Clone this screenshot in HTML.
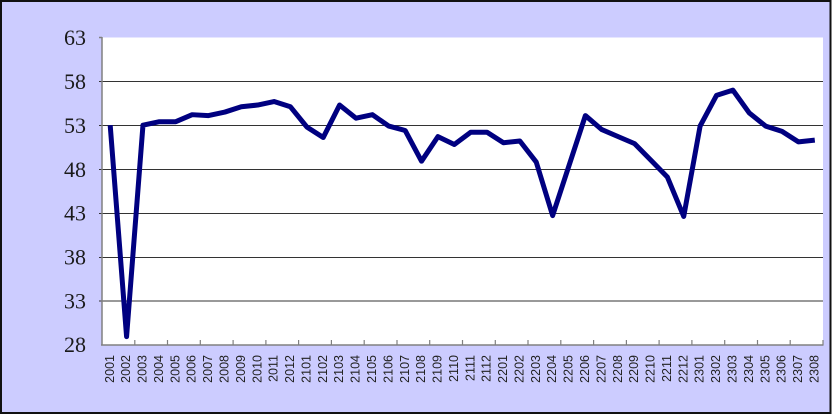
<!DOCTYPE html>
<html><head><meta charset="utf-8"><style>
html,body{margin:0;padding:0;background:#fff;}
svg{display:block;}
</style></head><body>
<svg width="832" height="415" xmlns="http://www.w3.org/2000/svg">
<rect x="1" y="1" width="829.5" height="412" fill="#ccccff" stroke="#111" stroke-width="2"/>
<rect x="102" y="37.5" width="721" height="307" fill="#fff"/>
<g stroke="#333" stroke-width="1">
<line x1="99" y1="81.5" x2="823" y2="81.5"/>
<line x1="99" y1="125.5" x2="823" y2="125.5"/>
<line x1="99" y1="169.5" x2="823" y2="169.5"/>
<line x1="99" y1="213.5" x2="823" y2="213.5"/>
<line x1="99" y1="257.5" x2="823" y2="257.5"/>
<line x1="99" y1="301" x2="823" y2="301"/>
</g>
<g stroke="#808080" stroke-width="1.5">
<line x1="99" y1="37.5" x2="102" y2="37.5"/>
<line x1="102" y1="37" x2="102" y2="345"/>
<line x1="101" y1="345" x2="823.5" y2="345"/>
</g>
<g stroke="#808080" stroke-width="1.2">
<line x1="134.8" y1="340" x2="134.8" y2="345"/>
<line x1="167.5" y1="340" x2="167.5" y2="345"/>
<line x1="200.3" y1="340" x2="200.3" y2="345"/>
<line x1="233.1" y1="340" x2="233.1" y2="345"/>
<line x1="265.9" y1="340" x2="265.9" y2="345"/>
<line x1="298.6" y1="340" x2="298.6" y2="345"/>
<line x1="331.4" y1="340" x2="331.4" y2="345"/>
<line x1="364.2" y1="340" x2="364.2" y2="345"/>
<line x1="397.0" y1="340" x2="397.0" y2="345"/>
<line x1="429.7" y1="340" x2="429.7" y2="345"/>
<line x1="462.5" y1="340" x2="462.5" y2="345"/>
<line x1="495.3" y1="340" x2="495.3" y2="345"/>
<line x1="528.0" y1="340" x2="528.0" y2="345"/>
<line x1="560.8" y1="340" x2="560.8" y2="345"/>
<line x1="593.6" y1="340" x2="593.6" y2="345"/>
<line x1="626.4" y1="340" x2="626.4" y2="345"/>
<line x1="659.1" y1="340" x2="659.1" y2="345"/>
<line x1="691.9" y1="340" x2="691.9" y2="345"/>
<line x1="724.7" y1="340" x2="724.7" y2="345"/>
<line x1="757.5" y1="340" x2="757.5" y2="345"/>
<line x1="790.2" y1="340" x2="790.2" y2="345"/>
<line x1="823" y1="340" x2="823" y2="345"/>
</g>
<g font-family="Liberation Serif, serif" font-size="22" fill="#1a1a1a" text-anchor="end">
<text x="86" y="45">63</text>
<text x="86" y="89">58</text>
<text x="86" y="133">53</text>
<text x="86" y="177">48</text>
<text x="86" y="220.5">43</text>
<text x="86" y="264.5">38</text>
<text x="86" y="308.5">33</text>
<text x="86" y="352">28</text>
</g>
<polyline fill="none" stroke="#000080" stroke-width="5" stroke-linejoin="round" points="110.19,125.21 126.58,336.61 142.97,125.21 159.35,121.71 175.74,121.71 192.13,114.69 208.51,115.57 224.90,112.06 241.28,106.79 257.67,105.04 274.06,101.53 290.44,106.79 306.83,126.97 323.22,137.49 339.60,105.04 355.99,118.20 372.38,114.69 388.76,126.09 405.15,130.48 421.53,161.18 437.92,136.62 454.31,144.51 470.69,132.23 487.08,132.23 503.47,142.76 519.85,141.00 536.24,162.05 552.63,215.56 569.01,165.56 585.40,115.57 601.78,129.60 618.17,136.62 634.56,143.63 650.94,160.30 667.33,176.97 683.72,216.44 700.10,126.09 716.49,95.39 732.88,90.13 749.26,112.94 765.65,126.09 782.03,131.35 798.42,141.88 814.81,140.13"/>
<g font-family="Liberation Sans, sans-serif" font-size="12.5" fill="#222" text-anchor="end">
<text transform="translate(113.8,355) rotate(-90)">2001</text>
<text transform="translate(130.2,355) rotate(-90)">2002</text>
<text transform="translate(146.6,355) rotate(-90)">2003</text>
<text transform="translate(163.0,355) rotate(-90)">2004</text>
<text transform="translate(179.3,355) rotate(-90)">2005</text>
<text transform="translate(195.7,355) rotate(-90)">2006</text>
<text transform="translate(212.1,355) rotate(-90)">2007</text>
<text transform="translate(228.5,355) rotate(-90)">2008</text>
<text transform="translate(244.9,355) rotate(-90)">2009</text>
<text transform="translate(261.3,355) rotate(-90)">2010</text>
<text transform="translate(277.7,355) rotate(-90)">2011</text>
<text transform="translate(294.0,355) rotate(-90)">2012</text>
<text transform="translate(310.4,355) rotate(-90)">2101</text>
<text transform="translate(326.8,355) rotate(-90)">2102</text>
<text transform="translate(343.2,355) rotate(-90)">2103</text>
<text transform="translate(359.6,355) rotate(-90)">2104</text>
<text transform="translate(376.0,355) rotate(-90)">2105</text>
<text transform="translate(392.4,355) rotate(-90)">2106</text>
<text transform="translate(408.8,355) rotate(-90)">2107</text>
<text transform="translate(425.1,355) rotate(-90)">2108</text>
<text transform="translate(441.5,355) rotate(-90)">2109</text>
<text transform="translate(457.9,355) rotate(-90)">2110</text>
<text transform="translate(474.3,355) rotate(-90)">2111</text>
<text transform="translate(490.7,355) rotate(-90)">2112</text>
<text transform="translate(507.1,355) rotate(-90)">2201</text>
<text transform="translate(523.5,355) rotate(-90)">2202</text>
<text transform="translate(539.8,355) rotate(-90)">2203</text>
<text transform="translate(556.2,355) rotate(-90)">2204</text>
<text transform="translate(572.6,355) rotate(-90)">2205</text>
<text transform="translate(589.0,355) rotate(-90)">2206</text>
<text transform="translate(605.4,355) rotate(-90)">2207</text>
<text transform="translate(621.8,355) rotate(-90)">2208</text>
<text transform="translate(638.2,355) rotate(-90)">2209</text>
<text transform="translate(654.5,355) rotate(-90)">2210</text>
<text transform="translate(670.9,355) rotate(-90)">2211</text>
<text transform="translate(687.3,355) rotate(-90)">2212</text>
<text transform="translate(703.7,355) rotate(-90)">2301</text>
<text transform="translate(720.1,355) rotate(-90)">2302</text>
<text transform="translate(736.5,355) rotate(-90)">2303</text>
<text transform="translate(752.9,355) rotate(-90)">2304</text>
<text transform="translate(769.3,355) rotate(-90)">2305</text>
<text transform="translate(785.6,355) rotate(-90)">2306</text>
<text transform="translate(802.0,355) rotate(-90)">2307</text>
<text transform="translate(818.4,355) rotate(-90)">2308</text>
</g>
</svg>
</body></html>
